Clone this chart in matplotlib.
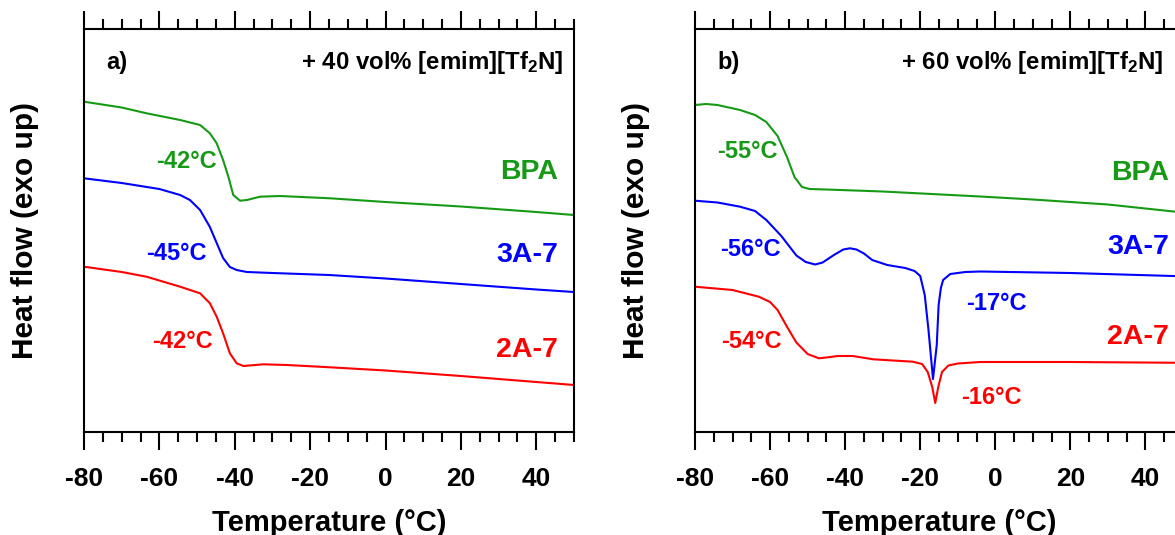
import matplotlib
matplotlib.use("Agg")
import matplotlib.pyplot as plt
from matplotlib.ticker import MultipleLocator

plt.rcParams["font.family"] = ["Liberation Sans", "DejaVu Sans"]
plt.rcParams["font.weight"] = "bold"
plt.rcParams["axes.unicode_minus"] = False
plt.rcParams["mathtext.fontset"] = "custom"
plt.rcParams["mathtext.rm"] = "Liberation Sans:bold"
plt.rcParams["mathtext.bf"] = "Liberation Sans:bold"
plt.rcParams["mathtext.it"] = "Liberation Sans:bold"

GREEN = "#169a16"
BLUE = "#0000ff"
RED = "#ff0000"

# ---- panel a) + 40 vol% [emim][Tf2N]  (heat flow, arbitrary units, exo up)
a_bpa_T = [-80, -70, -63.4, -54.5, -49.2, -46.6, -44.8, -43.1, -41.7, -40.4,
           -38.6, -36.8, -33.3, -28, -14.7, 0, 20, 40, 50]
a_bpa_H = [33.03, 32.45, 31.87, 31.2, 30.7, 29.87, 28.87, 27.2, 25.53, 23.7,
           23.13, 23.2, 23.53, 23.6, 23.37, 23.0, 22.55, 22.0, 21.7]

a_3a7_T = [-80, -70, -60, -54.5, -51.9, -49.2, -46.6, -44.8, -43.1, -41.3,
           -39.5, -36.8, -30, -15, 0, 20, 40, 50]
a_3a7_H = [25.37, 24.9, 24.3, 23.7, 23.2, 22.2, 20.5, 18.9, 17.4, 16.5, 16.2,
           16.0, 15.9, 15.7, 15.35, 14.8, 14.25, 14.0]

a_2a7_T = [-80, -70, -63.4, -54.5, -49.2, -46.6, -44.8, -43.1, -41.3, -39.5,
           -37.7, -32.4, -26.2, -14.7, 0, 20, 40, 50]
a_2a7_H = [16.53, 16.0, 15.53, 14.53, 13.87, 12.87, 11.53, 9.87, 7.87, 6.87,
           6.6, 6.77, 6.7, 6.47, 6.15, 5.6, 5.0, 4.7]

# ---- panel b) + 60 vol% [emim][Tf2N]
b_bpa_T = [-80, -77, -74, -68, -64, -61, -58, -55.5, -53.5, -51.5, -49.5, -45,
           -30, -4, 10, 30, 50]
b_bpa_H = [32.7, 32.8, 32.7, 32.2, 31.7, 31.0, 29.6, 27.5, 25.5, 24.5, 24.3,
           24.25, 24.05, 23.55, 23.25, 22.75, 21.95]

b_3a7_T = [-80, -74, -68, -64, -61, -57, -53, -50.5, -48, -46, -43, -40.5,
           -38.7, -37, -35, -32.8, -28.8, -24, -21.5, -20, -18.8, -17.8, -16.6,
           -15.6, -15.1, -14.5, -13.9, -12, -8, -4, 20, 50]
b_3a7_H = [23.13, 22.95, 22.53, 22.1, 21.2, 19.6, 17.65, 17.0, 16.75, 16.95,
           17.7, 18.25, 18.37, 18.25, 17.85, 17.2, 16.7, 16.4, 16.1, 15.6, 13.7,
           10.2, 5.3, 8.7, 12.7, 14.4, 15.2, 15.8, 16.0, 16.05, 15.9, 15.57]

b_2a7_T = [-80, -70, -63, -60, -58, -55.5, -53, -50, -47, -45, -42, -38,
           -32.5, -22, -19.5, -18, -16.8, -16, -15.2, -14.2, -12.5, -10, -4,
           20, 50]
b_2a7_H = [14.53, 14.2, 13.53, 13.0, 12.2, 10.53, 8.95, 7.8, 7.37, 7.45, 7.6,
           7.6, 7.27, 7.03, 6.8, 6.0, 4.5, 2.9, 4.5, 6.0, 6.65, 6.85, 7.0, 7.0,
           6.92]

sample_names = ["BPA", "3A-7", "2A-7"]
colors = [GREEN, BLUE, RED]

W, H = 1175, 535
fig = plt.figure(figsize=(W / 100, H / 100), dpi=100)


def px_axes(left, top, right, bottom):
    return fig.add_axes([left / W, 1 - bottom / H, (right - left) / W, (bottom - top) / H])


def style(ax):
    ax.set_xlim(-80, 50)
    ax.set_ylim(0, 40.3)
    ax.set_yticks([])
    ax.xaxis.set_major_locator(MultipleLocator(20))
    ax.xaxis.set_minor_locator(MultipleLocator(5))
    ax.tick_params(axis="x", which="both", direction="out", top=True, width=1.5,
                   labelsize=19, pad=12)
    ax.tick_params(axis="x", which="major", length=13)
    ax.tick_params(axis="x", which="minor", length=7)
    for s in ax.spines.values():
        s.set_linewidth(1.5)
    ax.set_xlabel("Temperature (°C)", fontsize=21, fontweight="bold")
    ax.xaxis.set_label_coords(0.5, -0.19)
    ax.set_ylabel("Heat flow (exo up)", fontsize=21.5, fontweight="bold")
    ax.yaxis.set_label_coords(-0.092, 0.5)


axA = px_axes(84, 29, 574, 432)
axB = px_axes(695, 29, 1183, 432)

curvesA = [(a_bpa_T, a_bpa_H), (a_3a7_T, a_3a7_H), (a_2a7_T, a_2a7_H)]
curvesB = [(b_bpa_T, b_bpa_H), (b_3a7_T, b_3a7_H), (b_2a7_T, b_2a7_H)]

for ax, curves in [(axA, curvesA), (axB, curvesB)]:
    style(ax)
    for (t, h), c in zip(curves, colors):
        ax.plot(t, h, color=c, lw=1.5)

# panel a annotations
axA.text(-74.2, 37.0, "a)", fontsize=17, fontweight="bold", va="center")
axA.text(47.1, 37.0, r"+ 40 vol% [emim][Tf$_2$N]", fontsize=17.3,
         fontweight="bold", ha="right", va="center")
for name, c, y in zip(sample_names, colors, [26.0, 17.7, 8.2]):
    axA.text(45.7, y, name, color=c, fontsize=20.5, ha="right", va="center")
for lbl, c, x, y in zip(["-42°C", "-45°C", "-42°C"], colors,
                        [-44.7, -47.4, -45.8], [27.1, 17.9, 9.0]):
    axA.text(x, y, lbl, color=c, fontsize=17, ha="right", va="center")

# panel b annotations
axB.text(-73.9, 37.0, "b)", fontsize=17, fontweight="bold", va="center")
axB.text(44.8, 37.0, r"+ 60 vol% [emim][Tf$_2$N]", fontsize=17.3,
         fontweight="bold", ha="right", va="center")
for name, c, y in zip(sample_names, colors, [25.9, 18.5, 9.5]):
    axB.text(46.2, y, name, color=c, fontsize=20.5, ha="right", va="center")
for lbl, c, x, y in zip(["-55°C", "-56°C", "-54°C"], colors,
                        [-58.1, -57.3, -56.8], [28.0, 18.2, 9.0]):
    axB.text(x, y, lbl, color=c, fontsize=17, ha="right", va="center")
axB.text(-7.7, 12.8, "-17°C", color=BLUE, fontsize=17, ha="left", va="center")
axB.text(-9.1, 3.4, "-16°C", color=RED, fontsize=17, ha="left", va="center")

fig.savefig("out.png", dpi=100)
